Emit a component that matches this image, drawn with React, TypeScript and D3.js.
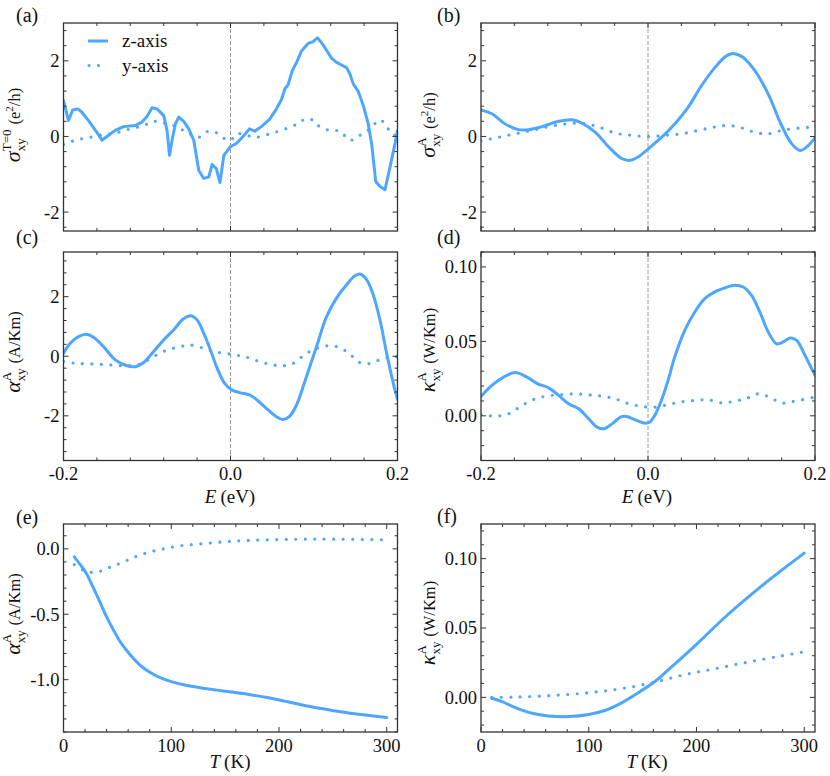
import React from "react";
import * as d3 from "d3";

const BLUE = "#4da6ff";
const FONT = "Liberation Serif";

type Pt = [number, number];

// (a) sigma^{T=0}_xy vs E
const aZ: Pt[] = [
  [-0.2, 0.95], [-0.194, 0.42], [-0.189, 0.7], [-0.183, 0.73], [-0.178, 0.64], [-0.17, 0.42],
  [-0.16, 0.11], [-0.154, -0.1], [-0.148, 0], [-0.138, 0.16], [-0.128, 0.26], [-0.114, 0.29],
  [-0.106, 0.38], [-0.1, 0.53], [-0.094, 0.76], [-0.088, 0.73], [-0.08, 0.55], [-0.076, 0.16],
  [-0.073, -0.5], [-0.07, -0.1], [-0.066, 0.33], [-0.062, 0.51], [-0.056, 0.4], [-0.05, 0.2],
  [-0.044, -0.1], [-0.038, -0.9], [-0.032, -1.11], [-0.026, -1.07], [-0.022, -0.74], [-0.017, -0.85],
  [-0.0126, -1.22], [-0.008, -0.5], [-0.0006, -0.28], [0.0074, -0.18], [0.015, 0], [0.0226, 0.2],
  [0.029, 0.14], [0.037, 0.26], [0.047, 0.46], [0.055, 0.73], [0.061, 0.97], [0.065, 1.25],
  [0.069, 1.37], [0.074, 1.74], [0.08, 2.0], [0.085, 2.26], [0.093, 2.46], [0.099, 2.51],
  [0.104, 2.61], [0.109, 2.48], [0.115, 2.28], [0.121, 2.07], [0.127, 1.96], [0.133, 1.89],
  [0.139, 1.82], [0.143, 1.65], [0.147, 1.39], [0.153, 1.19], [0.159, 0.82], [0.165, 0.33],
  [0.169, -0.19], [0.174, -1.2], [0.179, -1.32], [0.185, -1.41], [0.191, -0.81], [0.197, -0.19],
  [0.2, 0.16],
];
const aY: Pt[] = [
  [-0.2, -0.21], [-0.184, -0.09], [-0.168, -0.02], [-0.152, 0.05], [-0.136, 0.1], [-0.12, 0.2],
  [-0.104, 0.29], [-0.092, 0.4], [-0.08, 0.36], [-0.068, 0.29], [-0.052, 0.11], [-0.038, -0.02],
  [-0.028, 0.13], [-0.018, 0.11], [-0.01, -0.02], [0, -0.1], [0.0074, 0.07], [0.019, 0.03],
  [0.031, -0.02], [0.047, 0.07], [0.063, 0.18], [0.079, 0.32], [0.091, 0.47], [0.101, 0.4],
  [0.107, 0.25], [0.119, 0.16], [0.131, 0.14], [0.143, -0.1], [0.155, 0.03], [0.167, 0.2],
  [0.179, 0.44], [0.187, 0.26], [0.195, 0.03], [0.2, 0.07],
];

// (b) sigma^A_xy vs E
const bZ: Pt[] = [
  [-0.2, 0.7], [-0.187, 0.6], [-0.171, 0.33], [-0.155, 0.18], [-0.143, 0.18], [-0.127, 0.26],
  [-0.107, 0.4], [-0.091, 0.44], [-0.079, 0.35], [-0.063, 0.11], [-0.047, -0.28], [-0.031, -0.59],
  [-0.021, -0.63], [-0.011, -0.53], [0.0006, -0.32], [0.0165, -0.02], [0.032, 0.33], [0.048, 0.77],
  [0.064, 1.34], [0.08, 1.82], [0.094, 2.13], [0.103, 2.19], [0.114, 2.09], [0.128, 1.74],
  [0.144, 1.12], [0.16, 0.29], [0.172, -0.19], [0.182, -0.37], [0.19, -0.28], [0.2, -0.04],
];
const bY: Pt[] = [
  [-0.2, -0.12], [-0.179, -0.02], [-0.159, 0.07], [-0.139, 0.16], [-0.119, 0.26], [-0.099, 0.33],
  [-0.079, 0.35], [-0.059, 0.25], [-0.039, 0.09], [-0.019, 0.03], [0.0006, 0], [0.02, 0.03],
  [0.04, 0.07], [0.06, 0.16], [0.08, 0.25], [0.096, 0.29], [0.112, 0.23], [0.128, 0.11],
  [0.144, 0.07], [0.16, 0.16], [0.18, 0.22], [0.2, 0.25],
];

// (c) alpha^A_xy vs E
const cZ: Pt[] = [
  [-0.2, 0.1], [-0.192, 0.44], [-0.182, 0.66], [-0.173, 0.74], [-0.164, 0.64], [-0.152, 0.32],
  [-0.138, -0.12], [-0.124, -0.32], [-0.114, -0.35], [-0.104, -0.21], [-0.092, 0.16], [-0.08, 0.55],
  [-0.068, 0.89], [-0.057, 1.24], [-0.048, 1.36], [-0.04, 1.22], [-0.032, 0.77], [-0.024, 0.21],
  [-0.016, -0.4], [-0.007, -0.91], [0.0014, -1.13], [0.011, -1.22], [0.023, -1.3], [0.031, -1.45],
  [0.043, -1.75], [0.055, -2.03], [0.063, -2.12], [0.071, -2.01], [0.079, -1.64], [0.091, -0.68],
  [0.103, 0.32], [0.115, 1.33], [0.127, 1.95], [0.139, 2.4], [0.149, 2.7], [0.155, 2.76],
  [0.163, 2.57], [0.171, 2.06], [0.179, 1.22], [0.187, 0.1], [0.195, -0.91], [0.2, -1.45],
];
const cY: Pt[] = [
  [-0.2, -0.18], [-0.184, -0.24], [-0.164, -0.26], [-0.144, -0.29], [-0.124, -0.32], [-0.108, -0.26],
  [-0.092, -0.01], [-0.076, 0.21], [-0.06, 0.32], [-0.05, 0.38], [-0.036, 0.3], [-0.02, 0.16],
  [0, 0.07], [0.019, -0.03], [0.035, -0.18], [0.051, -0.29], [0.063, -0.32], [0.075, -0.24],
  [0.091, 0.1], [0.107, 0.3], [0.123, 0.35], [0.139, 0.16], [0.155, -0.21], [0.167, -0.24],
  [0.183, -0.07], [0.2, -0.01],
];

// (d) kappa^A_xy vs E
const dZ: Pt[] = [
  [-0.2, 0.013], [-0.187, 0.0204], [-0.173, 0.026], [-0.159, 0.0291], [-0.145, 0.026], [-0.132, 0.0215],
  [-0.119, 0.0188], [-0.107, 0.0137], [-0.095, 0.0081], [-0.083, 0.0047], [-0.071, -0.002], [-0.061, -0.0076],
  [-0.053, -0.0087], [-0.043, -0.0054], [-0.033, -0.0009], [-0.026, -0.0004], [-0.016, -0.0025], [-0.004, -0.0049],
  [0.002, -0.0043], [0.008, 0.0002], [0.016, 0.0103], [0.024, 0.0238], [0.032, 0.0395], [0.044, 0.0574],
  [0.056, 0.0697], [0.068, 0.0787], [0.08, 0.0832], [0.092, 0.0859], [0.104, 0.0877], [0.114, 0.0865],
  [0.124, 0.0809], [0.134, 0.0697], [0.144, 0.0563], [0.154, 0.0484], [0.162, 0.0496], [0.17, 0.0522],
  [0.178, 0.0507], [0.188, 0.0406], [0.2, 0.0271],
];
const dY: Pt[] = [
  [-0.2, 0.0009], [-0.183, -0.0002], [-0.167, 0.0013], [-0.151, 0.007], [-0.135, 0.0114], [-0.119, 0.0135],
  [-0.103, 0.0143], [-0.087, 0.0148], [-0.071, 0.0141], [-0.055, 0.0132], [-0.039, 0.0114], [-0.023, 0.0081],
  [-0.008, 0.0063], [0.008, 0.0058], [0.024, 0.0076], [0.04, 0.0094], [0.056, 0.0103], [0.072, 0.0108],
  [0.088, 0.0087], [0.104, 0.0099], [0.12, 0.0121], [0.132, 0.0148], [0.144, 0.013], [0.16, 0.0087],
  [0.176, 0.0099], [0.2, 0.0126],
];

// (e) alpha^A_xy vs T
const eZ: Pt[] = [
  [10, -0.061], [15.5, -0.12], [21, -0.184], [27.9, -0.3], [34, -0.41], [40, -0.52], [46.4, -0.62],
  [52.6, -0.71], [61.9, -0.81], [71.2, -0.89], [80.5, -0.945], [89.8, -0.985], [100, -1.015],
  [114.6, -1.045], [127, -1.062], [142.4, -1.08], [158, -1.097], [173.4, -1.115], [189, -1.137],
  [204, -1.162], [219.8, -1.19], [235, -1.215], [251, -1.237], [266, -1.256], [282, -1.272], [300, -1.29],
];
const eY: Pt[] = [
  [10, -0.12], [18.6, -0.164], [26.3, -0.18], [34, -0.171], [43.3, -0.14], [55.7, -0.1], [68, -0.056],
  [80.5, -0.023], [93, 0.0], [108, 0.023], [127, 0.038], [158, 0.059], [189, 0.069], [220, 0.074],
  [251, 0.074], [300, 0.069],
];

// (f) kappa^A_xy vs T
const fZ: Pt[] = [
  [10, -0.0007], [19.5, -0.0031], [31.9, -0.0074], [47.4, -0.0115], [62.8, -0.0134], [81.4, -0.0139],
  [100, -0.0124], [115.5, -0.0093], [131, -0.0038], [146.4, 0.0035], [162, 0.0118], [174.2, 0.0201],
  [197.5, 0.0364], [228.5, 0.0592], [259.4, 0.0796], [274.9, 0.0892], [300, 0.104],
];
const fY: Pt[] = [
  [10, 0.0], [32, 0.0002], [63, 0.0012], [94, 0.0029], [125, 0.0057], [156, 0.01], [187, 0.016],
  [218, 0.0208], [249, 0.0256], [279, 0.0299], [300, 0.0328],
];

const E_MAJOR = [-0.2, 0, 0.2];
const E_MINOR = d3.range(0, 11).map((i) => -0.2 + i * 0.04);
const T_MAJOR = [0, 100, 200, 300];
const T_MINOR = d3.range(0, 16).map((i) => i * 20);
const SIG_MAJOR = [-2, 0, 2];
const SIG_MINOR = d3.range(0, 14).map((i) => -2.4 + i * 0.4);
const ALPHA_E_MINOR = d3.range(0, 17).map((i) => -3.2 + i * 0.4);
const KAPPA_MAJOR = [0, 0.05, 0.1];
const KAPPA_E_MINOR = d3.range(0, 14).map((i) => -0.02 + i * 0.01);
const ALPHA_T_MAJOR = [-1.0, -0.5, 0.0];
const ALPHA_T_MINOR = d3.range(0, 16).map((i) => -1.4 + i * 0.1);
const KAPPA_T_MINOR = d3.range(0, 15).map((i) => -0.02 + i * 0.01);

const fmt = (spec: string) => (v: number) => d3.format(spec)(v).replace("\u2212", "-");

type Series = { data: Pt[]; dotted?: boolean; linear?: boolean };

type PanelProps = {
  id: string;
  left: number; right: number; top: number; bottom: number;
  xDomain: [number, number]; yDomain: [number, number];
  xMajor: number[]; xMinor: number[]; yMajor: number[]; yMinor: number[];
  xFmt?: (v: number) => string; yFmt: (v: number) => string;
  showXLabels: boolean;
  vline?: boolean;
  series: Series[];
};

function T(props: any) {
  const { children, size, ...rest } = props;
  return (
    <text {...rest} style={{ fontFamily: FONT }} fontSize={size || 18.5} fill="#111">{children}</text>
  );
}

function Panel(p: PanelProps) {
  const x = d3.scaleLinear().domain(p.xDomain).range([p.left, p.right]);
  const y = d3.scaleLinear().domain(p.yDomain).range([p.bottom, p.top]);
  const isMajor = (arr: number[], v: number) => arr.some((m) => Math.abs(m - v) < 1e-9);
  const ML = 5, mL = 3;
  const ticks: any[] = [];
  p.xMinor.forEach((v, i) => {
    if (v < p.xDomain[0] - 1e-9 || v > p.xDomain[1] + 1e-9) return;
    const L = isMajor(p.xMajor, v) ? ML : mL;
    const px = x(v);
    ticks.push(<line key={"xb" + i} x1={px} x2={px} y1={p.bottom} y2={p.bottom - L} />);
    ticks.push(<line key={"xt" + i} x1={px} x2={px} y1={p.top} y2={p.top + L} />);
  });
  p.yMinor.forEach((v, i) => {
    if (v < p.yDomain[0] - 1e-9 || v > p.yDomain[1] + 1e-9) return;
    const L = isMajor(p.yMajor, v) ? ML : mL;
    const py = y(v);
    ticks.push(<line key={"yl" + i} x1={p.left} x2={p.left + L} y1={py} y2={py} />);
    ticks.push(<line key={"yr" + i} x1={p.right} x2={p.right - L} y1={py} y2={py} />);
  });
  return (
    <g>
      <defs>
        <clipPath id={"clip-" + p.id}>
          <rect x={p.left} y={p.top} width={p.right - p.left} height={p.bottom - p.top} />
        </clipPath>
      </defs>
      {p.vline && (
        <line x1={x(0)} x2={x(0)} y1={p.top} y2={p.bottom} stroke="#9a9a9a" strokeWidth={1} strokeDasharray="4 2" />
      )}
      <g clipPath={`url(#clip-${p.id})`}>
        {p.series.map((s, i) => {
          const gen = d3
            .line<Pt>()
            .x((d) => x(d[0]))
            .y((d) => y(d[1]))
            .curve(s.linear ? d3.curveLinear : d3.curveCatmullRom.alpha(0.5));
          return (
            <path
              key={i}
              d={gen(s.data) || ""}
              fill="none"
              stroke={BLUE}
              strokeWidth={s.dotted ? 3.2 : 3}
              strokeLinecap="round"
              strokeLinejoin="round"
              strokeDasharray={s.dotted ? "0 9.5" : undefined}
            />
          );
        })}
      </g>
      <g stroke="#333" strokeWidth={1}>{ticks}</g>
      <rect x={p.left} y={p.top} width={p.right - p.left} height={p.bottom - p.top} fill="none" stroke="#333" strokeWidth={1.3} />
      {p.yMajor.map((v, i) => (
        <T key={"yt" + i} x={p.left - 4} y={y(v)} dy="0.35em" textAnchor="end">{p.yFmt(v)}</T>
      ))}
      {p.showXLabels && p.xFmt &&
        p.xMajor.map((v, i) => (
          <T key={"xt" + i} x={x(v)} y={p.bottom + 19.5} textAnchor="middle">{p.xFmt!(v)}</T>
        ))}
    </g>
  );
}

function YLabel({ x, y, sym, sup, supW, children }: { x: number; y: number; sym: string; sup: string; supW: number; children: React.ReactNode }) {
  const subW = 13;
  return (
    <T transform={`translate(${x},${y}) rotate(-90)`} textAnchor="middle" size={16.5}>
      <tspan fontStyle="italic" fontSize={22}>{sym}</tspan>
      <tspan fontSize={13} dy={5}>xy</tspan>
      <tspan fontSize={13} dx={-subW} dy={-14}>{sup}</tspan>
      <tspan dx={Math.max(0, subW - supW) + 5} dy={9}>{children}</tspan>
    </T>
  );
}

function XLabel({ x, y, sym, unit }: { x: number; y: number; sym: string; unit: string }) {
  return (
    <T x={x} y={y} textAnchor="middle" size={19}>
      <tspan fontStyle="italic">{sym}</tspan>
      <tspan dx={4}>{unit}</tspan>
    </T>
  );
}

export default function App() {
  const L = { left: 63.5, right: 397.5 };
  const R = { left: 481, right: 815 };
  const r1 = { top: 23, bottom: 231 };
  const r2 = { top: 252, bottom: 460.5 };
  const r3 = { top: 524, bottom: 732 };
  const eFmt = fmt(".1f");
  const tFmt = fmt("d");
  const sigFmt = fmt("d");
  const kFmt = fmt(".2f");
  const aFmt = fmt(".1f");
  return (
    <svg width={830} height={776} style={{ position: "absolute", left: 0, top: 0, background: "#fff" }}>
      <rect x={0} y={0} width={830} height={776} fill="#fff" />
      {/* (a) */}
      <Panel id="a" {...L} {...r1} xDomain={[-0.2, 0.2]} yDomain={[-2.5, 3]} xMajor={E_MAJOR} xMinor={E_MINOR}
        yMajor={SIG_MAJOR} yMinor={SIG_MINOR} yFmt={sigFmt} showXLabels={false} vline
        series={[{ data: aZ, linear: true }, { data: aY, dotted: true }]} />
      {/* legend */}
      <g>
        <line x1={88} x2={108} y1={41} y2={41} stroke={BLUE} strokeWidth={3} />
        <line x1={89} x2={108} y1={65.5} y2={65.5} stroke={BLUE} strokeWidth={3.2} strokeLinecap="round" strokeDasharray="0 9.5" />
        <T x={122} y={41} dy="0.33em" size={19}>z-axis</T>
        <T x={122} y={65.5} dy="0.33em" size={19}>y-axis</T>
      </g>
      <YLabel x={20} y={125} sym="σ" sup="T=0" supW={21}>
        (e<tspan fontSize={11} dy={-7}>2</tspan><tspan dy={7}>/h)</tspan>
      </YLabel>
      <T x={16} y={22} size={20}>(a)</T>

      {/* (b) */}
      <Panel id="b" {...R} {...r1} xDomain={[-0.2, 0.2]} yDomain={[-2.5, 3]} xMajor={E_MAJOR} xMinor={E_MINOR}
        yMajor={SIG_MAJOR} yMinor={SIG_MINOR} yFmt={sigFmt} showXLabels={false} vline
        series={[{ data: bZ }, { data: bY, dotted: true }]} />
      <YLabel x={435} y={125} sym="σ" sup="A" supW={9.5}>
        (e<tspan fontSize={11} dy={-7}>2</tspan><tspan dy={7}>/h)</tspan>
      </YLabel>
      <T x={437} y={22} size={20}>(b)</T>

      {/* (c) */}
      <Panel id="c" {...L} {...r2} xDomain={[-0.2, 0.2]} yDomain={[-3.5, 3.5]} xMajor={E_MAJOR} xMinor={E_MINOR}
        yMajor={SIG_MAJOR} yMinor={ALPHA_E_MINOR} yFmt={sigFmt} xFmt={eFmt} showXLabels vline
        series={[{ data: cZ }, { data: cY, dotted: true }]} />
      <YLabel x={20} y={352} sym="α" sup="A" supW={9.5}>(A/Km)</YLabel>
      <XLabel x={230} y={503} sym="E" unit="(eV)" />
      <T x={16} y={244} size={20}>(c)</T>

      {/* (d) */}
      <Panel id="d" {...R} {...r2} xDomain={[-0.2, 0.2]} yDomain={[-0.03, 0.11]} xMajor={E_MAJOR} xMinor={E_MINOR}
        yMajor={KAPPA_MAJOR} yMinor={KAPPA_E_MINOR} yFmt={kFmt} xFmt={eFmt} showXLabels vline
        series={[{ data: dZ }, { data: dY, dotted: true }]} />
      <YLabel x={435} y={350} sym="κ" sup="A" supW={9.5}>(W/Km)</YLabel>
      <XLabel x={647} y={503} sym="E" unit="(eV)" />
      <T x={437} y={244} size={20}>(d)</T>

      {/* (e) */}
      <Panel id="e" {...L} {...r3} xDomain={[0, 310]} yDomain={[-1.4, 0.19]} xMajor={T_MAJOR} xMinor={T_MINOR}
        yMajor={ALPHA_T_MAJOR} yMinor={ALPHA_T_MINOR} yFmt={aFmt} xFmt={tFmt} showXLabels
        series={[{ data: eZ }, { data: eY, dotted: true }]} />
      <YLabel x={20} y={614} sym="α" sup="A" supW={9.5}>(A/Km)</YLabel>
      <XLabel x={230} y={768} sym="T" unit="(K)" />
      <T x={16} y={524} size={20}>(e)</T>

      {/* (f) */}
      <Panel id="f" {...R} {...r3} xDomain={[0, 310]} yDomain={[-0.025, 0.125]} xMajor={T_MAJOR} xMinor={T_MINOR}
        yMajor={KAPPA_MAJOR} yMinor={KAPPA_T_MINOR} yFmt={kFmt} xFmt={tFmt} showXLabels
        series={[{ data: fZ }, { data: fY, dotted: true }]} />
      <YLabel x={435} y={623} sym="κ" sup="A" supW={9.5}>(W/Km)</YLabel>
      <XLabel x={647} y={768} sym="T" unit="(K)" />
      <T x={437} y={523} size={20}>(f)</T>
    </svg>
  );
}
